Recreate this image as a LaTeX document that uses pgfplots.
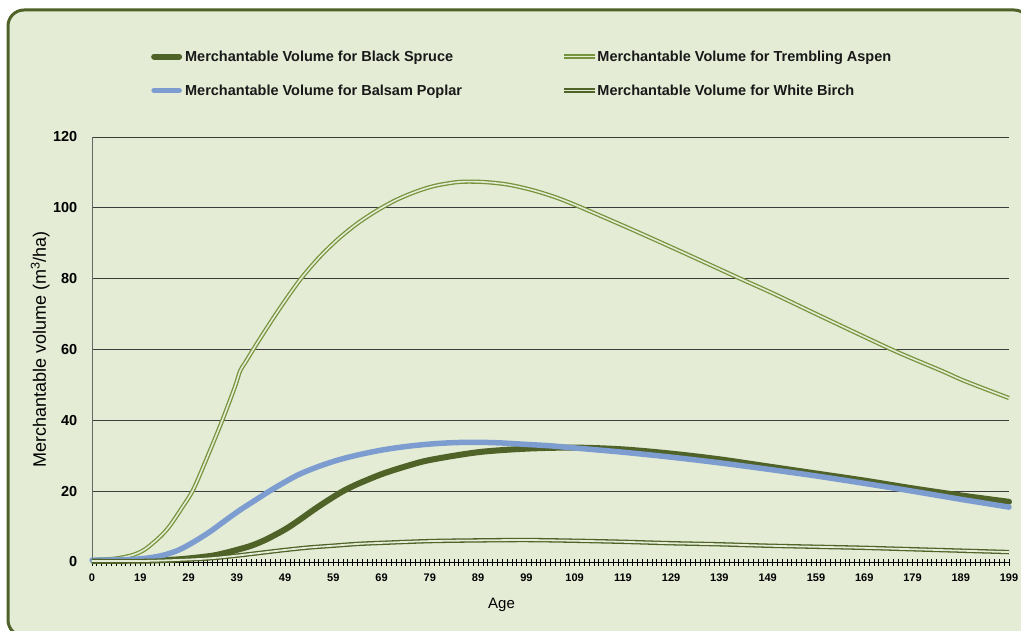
\documentclass[border=0pt]{standalone}
\usepackage{fontspec}
\setmainfont{Liberation Sans}
\usepackage{pgfplots}
\usepackage{pgfplotstable}
\pgfplotsset{compat=1.18}
\definecolor{bgc}{RGB}{228,236,213}
\definecolor{frm}{RGB}{79,98,40}
\definecolor{spruce}{RGB}{79,98,40}
\definecolor{poplar}{RGB}{125,157,208}
\definecolor{aspen}{RGB}{119,147,60}
\definecolor{birch}{RGB}{79,98,40}
\definecolor{gridc}{RGB}{60,60,60}
\pgfplotsset{capimg/.style={legend image code/.code={\draw[##1] (3pt,0pt) -- (28pt,0pt); \path (0pt,0pt) (31pt,0pt);}}}

% x = category index (0 -> age 0, i -> age i+9)
\pgfplotstableread{
x v
0 0.3
1 0.3
11 0.4
16 0.6
20 1.0
25 1.8
28 2.7
30.5 3.6
33 4.6
36 6.3
40 9.2
43 11.9
46 14.8
49 17.5
52 20.0
55 22.0
60 24.8
65 27.0
70 28.8
80 31.0
90 32.0
100 32.3
110 31.8
120 30.6
130 29.0
140 27.0
150 25.0
160 23.0
170 20.8
180 18.8
190 17.0
}\spruce

\pgfplotstableread{
x v
0 0.5
1 0.6
5 1.0
8.5 2.0
11 3.6
14 7.0
16 10.0
18.5 15.0
21 20.5
24 30.0
27 40.0
29.6 49.4
30.7 54.0
31.7 56.2
33.4 60.0
36 65.6
39 71.8
43 79.5
47 85.9
51 91.2
55 95.6
59 99.2
63 102.2
67 104.5
71 106.2
76 107.3
81 107.3
86 106.6
91 105.1
96 103.0
101 100.3
111 94.4
121 88.3
134 80.2
141 75.9
151 69.4
166 59.8
176 54.0
181 51.0
190 46.3
}\aspen

\pgfplotstableread{
x v
0 0.5
1 0.5
8 0.7
12 1.2
15 2.0
18 3.4
21 5.6
24.5 8.6
27.5 11.6
30.7 14.7
34 17.6
37 20.2
40 22.6
43 24.8
47 27.0
51 28.8
55 30.2
60 31.6
65 32.6
70 33.3
75 33.7
80 33.8
85 33.6
90 33.2
95 32.8
100 32.2
110 31.0
120 29.6
130 28.0
140 26.2
150 24.3
160 22.2
170 20.0
180 17.7
190 15.5
}\poplar

\pgfplotstableread{
x v
0 0.3
1 0.3
11 0.3
20 0.7
25 1.1
30 1.8
35 2.6
40 3.4
45 4.1
50 4.6
55 5.1
60 5.4
70 5.9
80 6.1
90 6.2
100 6.0
110 5.7
120 5.3
130 5.0
140 4.6
150 4.3
160 4.0
170 3.6
180 3.2
190 2.8
}\birch

\begin{document}
\begin{tikzpicture}
\useasboundingbox (0,0) rectangle (1021pt,630pt);
\fill[white] (0,0) rectangle (1021pt,630pt);
\draw[frm, line width=3pt, fill=bgc, rounded corners=16pt] (8pt,-6pt) rectangle (1030pt,620pt);
\begin{axis}[
  at={(92pt,68pt)}, anchor=south west,
  scale only axis, width=917pt, height=425pt,
  xmin=0, xmax=190, ymin=0, ymax=120,
  clip=false,
  axis x line*=bottom, axis y line*=left,
  x axis line style={black, line width=0.8pt},
  y axis line style={black!60, line width=0.8pt},
  xtick={0,10,...,190},
  xticklabels={0,19,29,39,49,59,69,79,89,99,109,119,129,139,149,159,169,179,189,199},
  minor xtick={0,1,...,190},
  tick align=center,
  major tick length=7pt, minor tick length=7pt,
  xtick style={black, line width=0.7pt},
  minor tick style={black, line width=0.7pt},
  ytick={0,20,...,120},
  ytick style={draw=none},
  ymajorgrids,
  grid style={gridc, line width=0.8pt},
  /pgf/number format/assume math mode=true,
  x tick label style={font=\fontsize{11}{12}\selectfont\bfseries, inner sep=0pt, yshift=-8pt},
  y tick label style={font=\fontsize{14.5}{15}\selectfont\bfseries, inner sep=0pt, xshift=-11pt},
  xlabel={Age},
  ylabel={Merchantable volume (m\textsuperscript{3}/ha)},
  every axis x label/.style={at={(axis description cs:0.4466,-0.101)}, anchor=center, font=\fontsize{15}{16}\selectfont},
  every axis y label/.style={at={(axis description cs:-0.0566,0.5)}, anchor=center, rotate=90, font=\fontsize{18}{19}\selectfont},
  legend columns=2,
  legend cell align=left,
  legend style={draw=none, fill=none, inner sep=0pt,
    font=\fontsize{14.5}{16}\selectfont\bfseries, text=black!90,
    at={(axis description cs:0.061,1.204)}, anchor=north west,
    row sep=22pt,
    nodes={inner sep=0pt},
    /tikz/every even column/.append style={column sep=100pt}},
  legend image code/.code={\draw[#1] (0pt,0pt) -- (31pt,0pt);},
]
\addplot[spruce, line width=6pt, line cap=round, smooth, capimg] table[x=x,y=v]{\spruce};
\addlegendentry{Merchantable Volume for Black Spruce}
\addplot[draw=aspen, double=bgc, double distance=1.6pt, line width=1.3pt, smooth] table[x=x,y=v]{\aspen};
\addlegendentry{Merchantable Volume for Trembling Aspen}
\addplot[poplar, line width=5.5pt, line cap=round, smooth, capimg] table[x=x,y=v]{\poplar};
\addlegendentry{Merchantable Volume for Balsam Poplar}
\addplot[draw=birch, double=bgc, double distance=1.8pt, line width=1.3pt, smooth] table[x=x,y=v]{\birch};
\addlegendentry{Merchantable Volume for White Birch}
\end{axis}
\end{tikzpicture}
\end{document}
